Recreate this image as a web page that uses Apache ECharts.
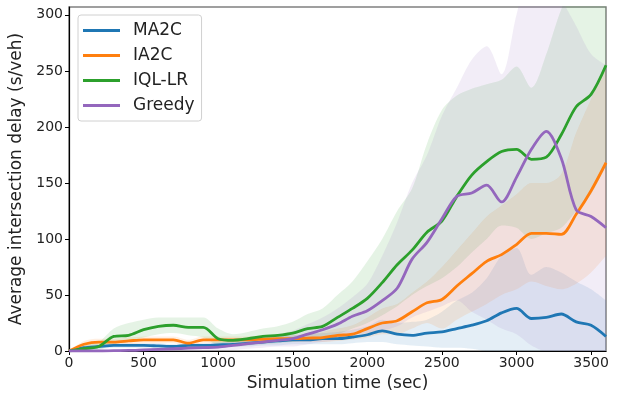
<!DOCTYPE html>
<html>
<head>
<meta charset="utf-8">
<script src="https://cdn.jsdelivr.net/npm/echarts@6/dist/echarts.min.js"></script>
<style>
html,body{margin:0;padding:0;background:#fff;}
#main{width:625px;height:397px;}
</style>
</head>
<body>
<div id="main"></div>
<script>
// 时间轴 (sec)
var times = [0,100,200,300,400,500,600,700,800,900,1000,1100,1200,1300,1400,1500,1600,1700,1800,1900,
  2000,2100,2200,2300,2400,2500,2600,2700,2800,2900,3000,3100,3200,3300,3400,3500,3600];
var xTicks = [0,500,1000,1500,2000,2500,3000,3500];
var yTicks = [0,50,100,150,200,250,300];

var names = ['MA2C','IA2C','IQL-LR','Greedy'];
var colors = ['#1f77b4','#ff7f0e','#2ca02c','#9467bd'];

// 均值
var ma2cMean = [0,3,4,5,5,5,4.5,4,5,5,5.5,6,7,8,9,10,10,11,11,12.5,14.5,18,15,14,16,17,20,23,27,34,38,29,30,33,26,23,13];
var ia2cMean = [0,6,8,8,9,10,10,10,7,10,10,10,10,10.5,11,11,11.5,12,14,15,20,25,27,35,43,46,58,69,80,86,95,105,105,104,122,143,168];
var iqlMean = [0,2,4,13,14,19,22,23,21,21,11,9.5,11,13,14,16,20,22,30,38,47,61,77,90,106,116,138,157,169,178,180,171,173,193,218,229,255];
var greedyMean = [0,0,0,0.3,0.5,1,1.5,2,2.5,3,3.5,5,6.5,8,9.5,11,15,19,24,31,36,45,56,82,97,118,138,141,148,133,155,180,196,172,126,120,110];

// 阴影区间 下界/上界
var ma2cLow = [0,1,2,3,3,3,3,3,3,3,3,4,4,5,5,6,6,6,6,7,8,8,6,5,4,3,3,2,0,0,0,0,0,0,0,0,0];
var ma2cHigh = [0,5,6,7,7,7,7,6,7,7,8,8,10,11,13,14,15,16,17,19,22,28,25,26,28,35,45,52,65,85,92,68,75,70,62,55,45];
var ia2cLow = [0,3,5,5,6,7,7,7,4,7,7,7,7,7.5,8,8,8,8,9,10,12,15,15,20,25,20,28,35,42,50,55,62,58,55,60,70,85];
var ia2cHigh = [0,9,11,11,12,13,13,13,10,13,13,13,13,13.5,14,14,15,17,20,23,30,38,42,52,62,75,90,105,120,130,140,150,150,158,195,225,255];
var iqlLow = [0,0,1,6,8,12,15,16,14,12,5,4,5,6,7,8,10,12,15,20,25,32,40,50,58,65,75,88,100,112,110,100,105,110,125,140,165];
var iqlHigh = [0,5,8,20,25,28,30,30,30,30,20,15,17,20,22,26,33,38,50,62,80,100,125,145,185,215,228,234,238,242,254,235,265,305,330,340,350];
var greedyLow = [0,0,0,0,0,0,0,0,0,0,0.5,1,2,3,4,4,6,8,10,14,16,18,22,30,35,40,45,35,28,20,15,5,0,0,0,0,0];
var greedyHigh = [0,0,1,1,2,2,3,4,5,6,7,9,11,13,15,18,24,30,38,48,60,85,115,150,175,210,235,260,272,247,300,345,345,315,290,265,255];

var means = [ma2cMean, ia2cMean, iqlMean, greedyMean];
var lows = [ma2cLow, ia2cLow, iqlLow, greedyLow];
var highs = [ma2cHigh, ia2cHigh, iqlHigh, greedyHigh];

var series = [];
// 先画阴影带 (堆叠: 下界 + 宽度)
names.forEach(function(name, k){
  var lo = lows[k], hi = highs[k];
  series.push({
    type:'line', stack:'band'+k, data:lo.slice(), smooth:0.3,
    symbol:'none', silent:true, z:1,
    lineStyle:{opacity:0}
  });
  series.push({
    type:'line', stack:'band'+k, smooth:0.3, symbol:'none', silent:true, z:1,
    data: hi.map(function(v,i){ return v - lo[i]; }),
    lineStyle:{opacity:0},
    areaStyle:{color:colors[k], opacity:0.12}
  });
});
// 再画均值曲线
names.forEach(function(name, k){
  series.push({
    name:name, type:'line', data:means[k], smooth:0.3,
    symbol:'none', z:3,
    lineStyle:{color:colors[k], width:2.8},
    itemStyle:{color:colors[k]}
  });
});

function isTick(idx){ return xTicks.indexOf(times[idx]) >= 0; }

var myChart = echarts.init(document.getElementById('main'));
var option = {
  animation:false,
  textStyle:{fontFamily:'DejaVu Sans'},
  grid:{left:69, right:19, top:7, bottom:45, show:true, borderColor:'#808080', borderWidth:1.5},
  legend:{
    data:names, orient:'vertical', left:78, top:15,
    padding:[7,7,7,5], itemGap:8, itemWidth:37, itemHeight:3, icon:'rect',
    backgroundColor:'#fff', borderColor:'#d0d0d0', borderWidth:1, borderRadius:3,
    textStyle:{fontSize:17, color:'#222', fontFamily:'DejaVu Sans', padding:[0,0,0,8]}
  },
  xAxis:{
    type:'category', data:times.map(String), boundaryGap:false,
    name:'Simulation time (sec)', nameLocation:'middle', nameGap:24,
    nameTextStyle:{fontSize:17, color:'#222'},
    axisLine:{lineStyle:{color:'#000', width:1.2}},
    axisTick:{interval:function(idx){ return isTick(idx); }, length:4, lineStyle:{color:'#000'}},
    axisLabel:{interval:function(idx){ return isTick(idx); }, fontSize:14, color:'#222', margin:5},
    splitLine:{show:false}
  },
  yAxis:{
    type:'value', min:0, max:307,
    name:'Average intersection delay (s/veh)', nameLocation:'middle', nameGap:38,
    nameTextStyle:{fontSize:17, color:'#222'},
    axisLine:{show:true, lineStyle:{color:'#000', width:1.2}},
    axisTick:{show:true, customValues:yTicks, length:4, lineStyle:{color:'#000'}},
    axisLabel:{customValues:yTicks, fontSize:14, color:'#222', margin:6},
    splitLine:{show:false}
  },
  series:series
};
myChart.setOption(option);
</script>
</body>
</html>
